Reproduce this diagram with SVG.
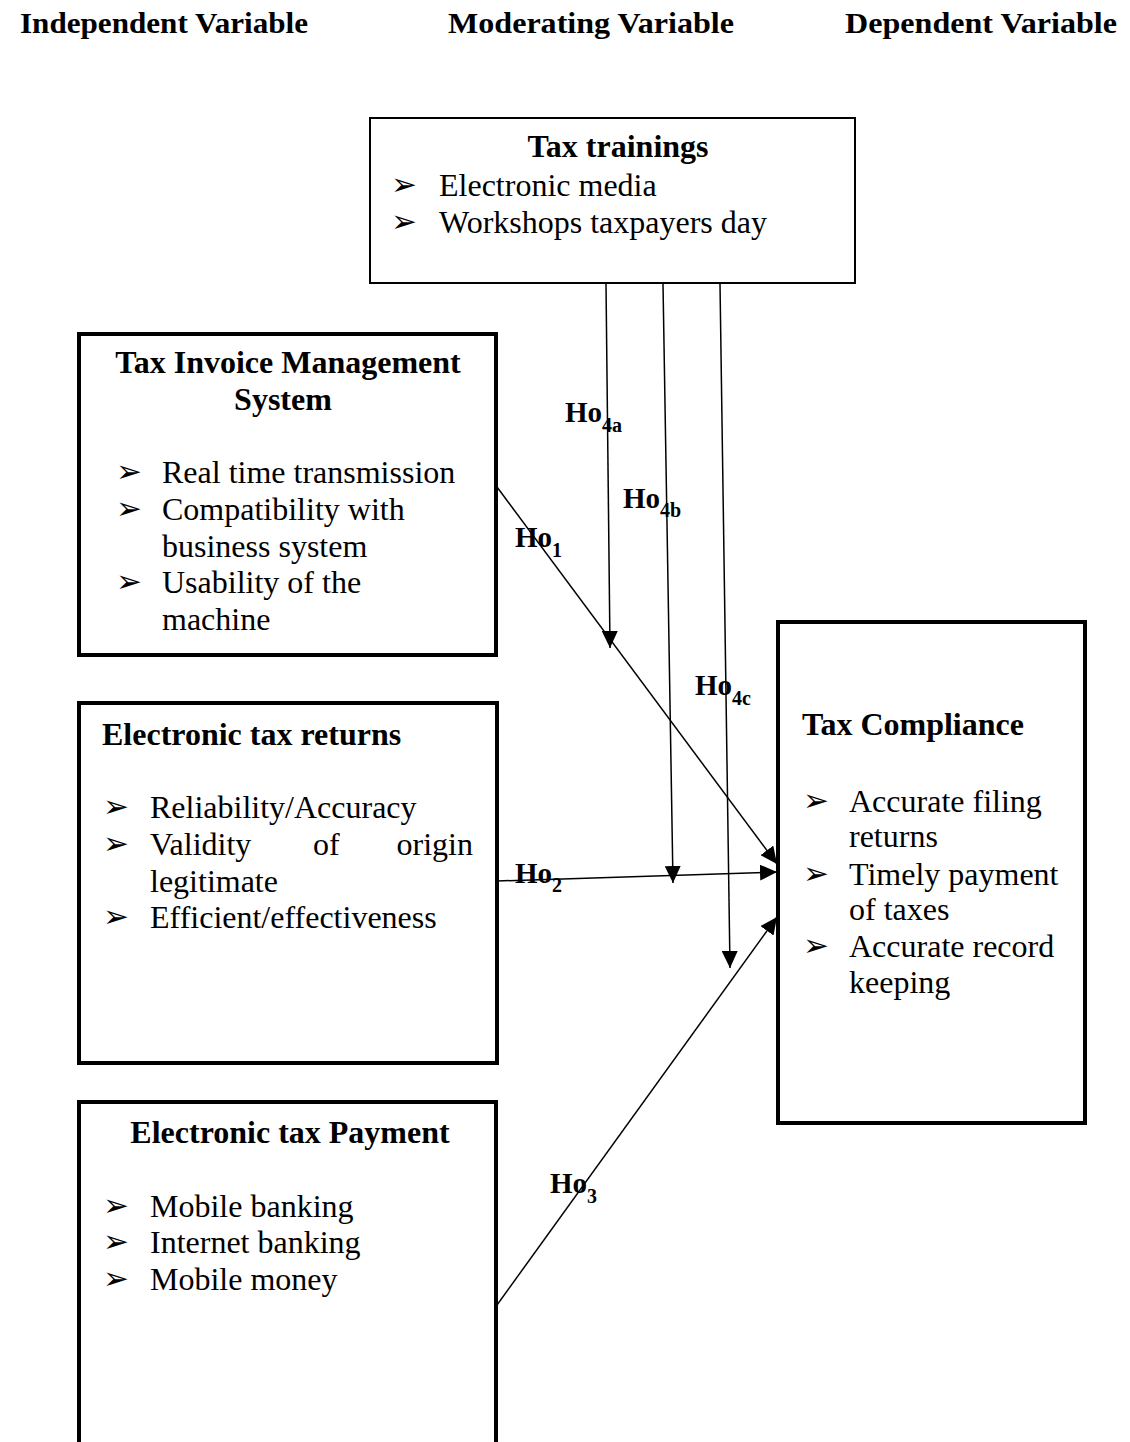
<svg xmlns="http://www.w3.org/2000/svg" width="1130" height="1442" viewBox="0 0 1130 1442">
<style>
.hdr{font-family:"Liberation Serif","Times New Roman",serif;font-weight:bold;font-size:29px;fill:#000}
.ttl{font-family:"Liberation Serif","Times New Roman",serif;font-weight:bold;font-size:32px;fill:#000}
.txt{font-family:"Liberation Serif","Times New Roman",serif;font-size:32px;fill:#000}
.bul{font-family:"DejaVu Sans",sans-serif;font-size:31px;fill:#000}
.lab{font-family:"Liberation Serif","Times New Roman",serif;font-weight:bold;font-size:29px;fill:#000}
.sub{font-size:20px}
.thick{fill:#fff;stroke:#000;stroke-width:4}
.thin{fill:#fff;stroke:#000;stroke-width:2}
.con{fill:none;stroke:#000;stroke-width:1.5}
</style>
<defs>
<marker id="ah" markerUnits="userSpaceOnUse" markerWidth="20" markerHeight="16" refX="17" refY="8" orient="auto">
<path d="M0,0 L17,8 L0,16 Z" fill="#000"/>
</marker>
</defs>
<rect width="1130" height="1442" fill="#fff"/>
<g id="headers">
<text class="hdr" x="20" y="33" textLength="288" lengthAdjust="spacingAndGlyphs">Independent Variable</text>
<text class="hdr" x="448" y="33" textLength="286" lengthAdjust="spacingAndGlyphs">Moderating Variable</text>
<text class="hdr" x="845" y="33" textLength="272" lengthAdjust="spacingAndGlyphs">Dependent Variable</text>
</g>
<g id="tax-trainings">
<rect class="thin" x="370" y="118" width="485" height="165"/>
<text class="ttl" x="618" y="157" text-anchor="middle">Tax trainings</text>
<text class="bul" x="391" y="195">➢</text>
<text class="txt" x="439" y="196">Electronic media</text>
<text class="bul" x="391" y="232">➢</text>
<text class="txt" x="439" y="233">Workshops taxpayers day</text>
</g>
<g id="tims">
<rect class="thick" x="79" y="334" width="417" height="321"/>
<text class="ttl" x="288" y="373" text-anchor="middle">Tax Invoice Management</text>
<text class="ttl" x="283" y="410" text-anchor="middle">System</text>
<text class="bul" x="116" y="482">➢</text>
<text class="txt" x="162" y="483">Real time transmission</text>
<text class="bul" x="116" y="519">➢</text>
<text class="txt" x="162" y="520">Compatibility with</text>
<text class="txt" x="162" y="557">business system</text>
<text class="bul" x="116" y="592">➢</text>
<text class="txt" x="162" y="593">Usability of the</text>
<text class="txt" x="162" y="630">machine</text>
</g>
<g id="e-returns">
<rect class="thick" x="79" y="703" width="418" height="360"/>
<text class="ttl" x="102" y="745">Electronic tax returns</text>
<text class="bul" x="103" y="817">➢</text>
<text class="txt" x="150" y="818">Reliability/Accuracy</text>
<text class="bul" x="103" y="854">➢</text>
<text class="txt" x="150" y="855">Validity</text>
<text class="txt" x="313" y="855">of</text>
<text class="txt" x="473" y="855" text-anchor="end">origin</text>
<text class="txt" x="150" y="892">legitimate</text>
<text class="bul" x="103" y="927">➢</text>
<text class="txt" x="150" y="928">Efficient/effectiveness</text>
</g>
<g id="e-payment">
<rect class="thick" x="79" y="1102" width="417" height="350"/>
<text class="ttl" x="290" y="1143" text-anchor="middle">Electronic tax Payment</text>
<text class="bul" x="103" y="1216">➢</text>
<text class="txt" x="150" y="1217">Mobile banking</text>
<text class="bul" x="103" y="1252">➢</text>
<text class="txt" x="150" y="1253">Internet banking</text>
<text class="bul" x="103" y="1289">➢</text>
<text class="txt" x="150" y="1290">Mobile money</text>
</g>
<g id="tax-compliance">
<rect class="thick" x="778" y="622" width="307" height="501"/>
<text class="ttl" x="802" y="735">Tax Compliance</text>
<text class="bul" x="803" y="811">➢</text>
<text class="txt" x="849" y="812">Accurate filing</text>
<text class="txt" x="849" y="847">returns</text>
<text class="bul" x="803" y="884">➢</text>
<text class="txt" x="849" y="885">Timely payment</text>
<text class="txt" x="849" y="920">of taxes</text>
<text class="bul" x="803" y="956">➢</text>
<text class="txt" x="849" y="957">Accurate record</text>
<text class="txt" x="849" y="993">keeping</text>
</g>
<g id="connectors">
<line class="con" x1="606" y1="284" x2="610" y2="648" marker-end="url(#ah)"/>
<line class="con" x1="663" y1="284" x2="673" y2="883" marker-end="url(#ah)"/>
<line class="con" x1="720" y1="284" x2="730" y2="968" marker-end="url(#ah)"/>
<line class="con" x1="497" y1="487" x2="777" y2="864" marker-end="url(#ah)"/>
<line class="con" x1="497" y1="881" x2="777" y2="872" marker-end="url(#ah)"/>
<line class="con" x1="497" y1="1305" x2="777" y2="917" marker-end="url(#ah)"/>
</g>
<g id="labels">
<text class="lab" x="565" y="422">Ho<tspan class="sub" dy="10">4a</tspan></text>
<text class="lab" x="623" y="508">Ho<tspan class="sub" dy="9">4b</tspan></text>
<text class="lab" x="515" y="547">Ho<tspan class="sub" dy="10">1</tspan></text>
<text class="lab" x="695" y="695">Ho<tspan class="sub" dy="10">4c</tspan></text>
<text class="lab" x="515" y="883">Ho<tspan class="sub" dy="9">2</tspan></text>
<text class="lab" x="550" y="1193">Ho<tspan class="sub" dy="10">3</tspan></text>
</g>
</svg>
